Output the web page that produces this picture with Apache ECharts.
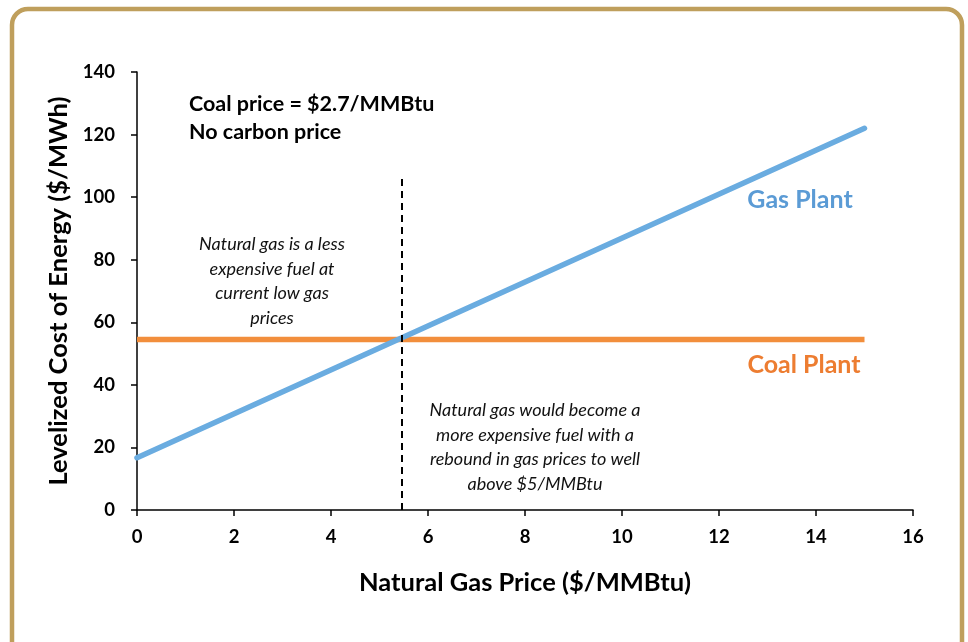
<!DOCTYPE html>
<html><head><meta charset="utf-8">
<script src="https://cdn.jsdelivr.net/npm/echarts@6/dist/echarts.min.js"></script>
<style>html,body{margin:0;padding:0;background:#fff}#c{width:968px;height:642px}</style>
</head><body><div id="c"></div>
<script>
var gasPrice = [0, 15];
var gasLcoe = [16.7, 122];
var coalLcoe = [54.5, 54.5];
var breakevenX = 5.45;
var breakevenTop = 106;
var xTicks = [0, 2, 4, 6, 8, 10, 12, 14, 16];
var yTicks = [0, 20, 40, 60, 80, 100, 120, 140];

var FONT = 'Lato, "Open Sans", sans-serif';
var chart = echarts.init(document.getElementById('c'));
var note = {fontFamily: FONT, fontStyle: 'italic', fontSize: 18, fill: '#111', lineHeight: 24.5, align: 'center'};
chart.setOption({
  animation: false,
  grid: {left: 137, right: 55, top: 72, bottom: 132},
  xAxis: {
    type: 'value', min: xTicks[0], max: xTicks[xTicks.length-1], interval: 2,
    splitLine: {show: false},
    axisLine: {lineStyle: {color: '#000', width: 1.5}},
    axisTick: {show: true, length: 6, lineStyle: {color: '#000', width: 1.5}},
    axisLabel: {color: '#000', fontFamily: FONT, fontWeight: 'bold', fontSize: 18.5, margin: 18},
    name: 'Natural Gas Price ($/MMBtu)', nameLocation: 'middle', nameGap: 60,
    nameTextStyle: {color: '#000', fontFamily: FONT, fontWeight: 'bold', fontSize: 25.5}
  },
  yAxis: {
    type: 'value', min: yTicks[0], max: yTicks[yTicks.length-1], interval: 20,
    splitLine: {show: false},
    axisLine: {show: true, lineStyle: {color: '#000', width: 1.5}},
    axisTick: {show: true, length: 6, lineStyle: {color: '#000', width: 1.5}},
    axisLabel: {color: '#000', fontFamily: FONT, fontWeight: 'bold', fontSize: 18.5, margin: 22},
    name: 'Levelized Cost of Energy ($/MWh)', nameLocation: 'middle', nameGap: 64,
    nameTextStyle: {color: '#000', fontFamily: FONT, fontWeight: 'bold', fontSize: 25.5}
  },
  series: [
    {type: 'line', name: 'Coal Plant', data: gasPrice.map(function(x,i){return [x, coalLcoe[i]];}),
     symbol: 'none', lineStyle: {color: '#f28e3c', width: 5.5},
     markLine: {silent: true, symbol: 'none', label: {show: false},
       lineStyle: {color: '#000', type: [7, 5], width: 2},
       data: [[{coord: [breakevenX, 0]}, {coord: [breakevenX, breakevenTop]}]]}},
    {type: 'line', name: 'Gas Plant', data: gasPrice.map(function(x,i){return [x, gasLcoe[i]];}),
     symbol: 'none', lineStyle: {color: '#6aace0', width: 5.5, cap: 'round'}}
  ],
  graphic: [
    {type: 'rect', shape: {x: 12, y: 9, width: 950, height: 700, r: 16}, style: {fill: 'none', stroke: '#bf9f5c', lineWidth: 4.5}, z: 10},
    {type: 'text', x: 189, y: 90, style: {text: 'Coal price = $2.7/MMBtu\nNo carbon price', fontFamily: FONT, fontWeight: 'bold', fontSize: 21.5, lineHeight: 28, fill: '#000'}},
    {type: 'text', x: 272, y: 232, style: Object.assign({text: 'Natural gas is a less\nexpensive fuel at\ncurrent low gas\nprices'}, note)},
    {type: 'text', x: 535, y: 398, style: Object.assign({text: 'Natural gas would become a\nmore expensive fuel with a\nrebound in gas prices to well\nabove $5/MMBtu'}, note)},
    {type: 'text', x: 800, y: 187, style: {text: 'Gas Plant', fontFamily: FONT, fontWeight: 'bold', fontSize: 25, fill: '#5b9bd5', align: 'center'}},
    {type: 'text', x: 804, y: 352, style: {text: 'Coal Plant', fontFamily: FONT, fontWeight: 'bold', fontSize: 25, fill: '#ed7d31', align: 'center'}}
  ]
});
</script></body></html>
